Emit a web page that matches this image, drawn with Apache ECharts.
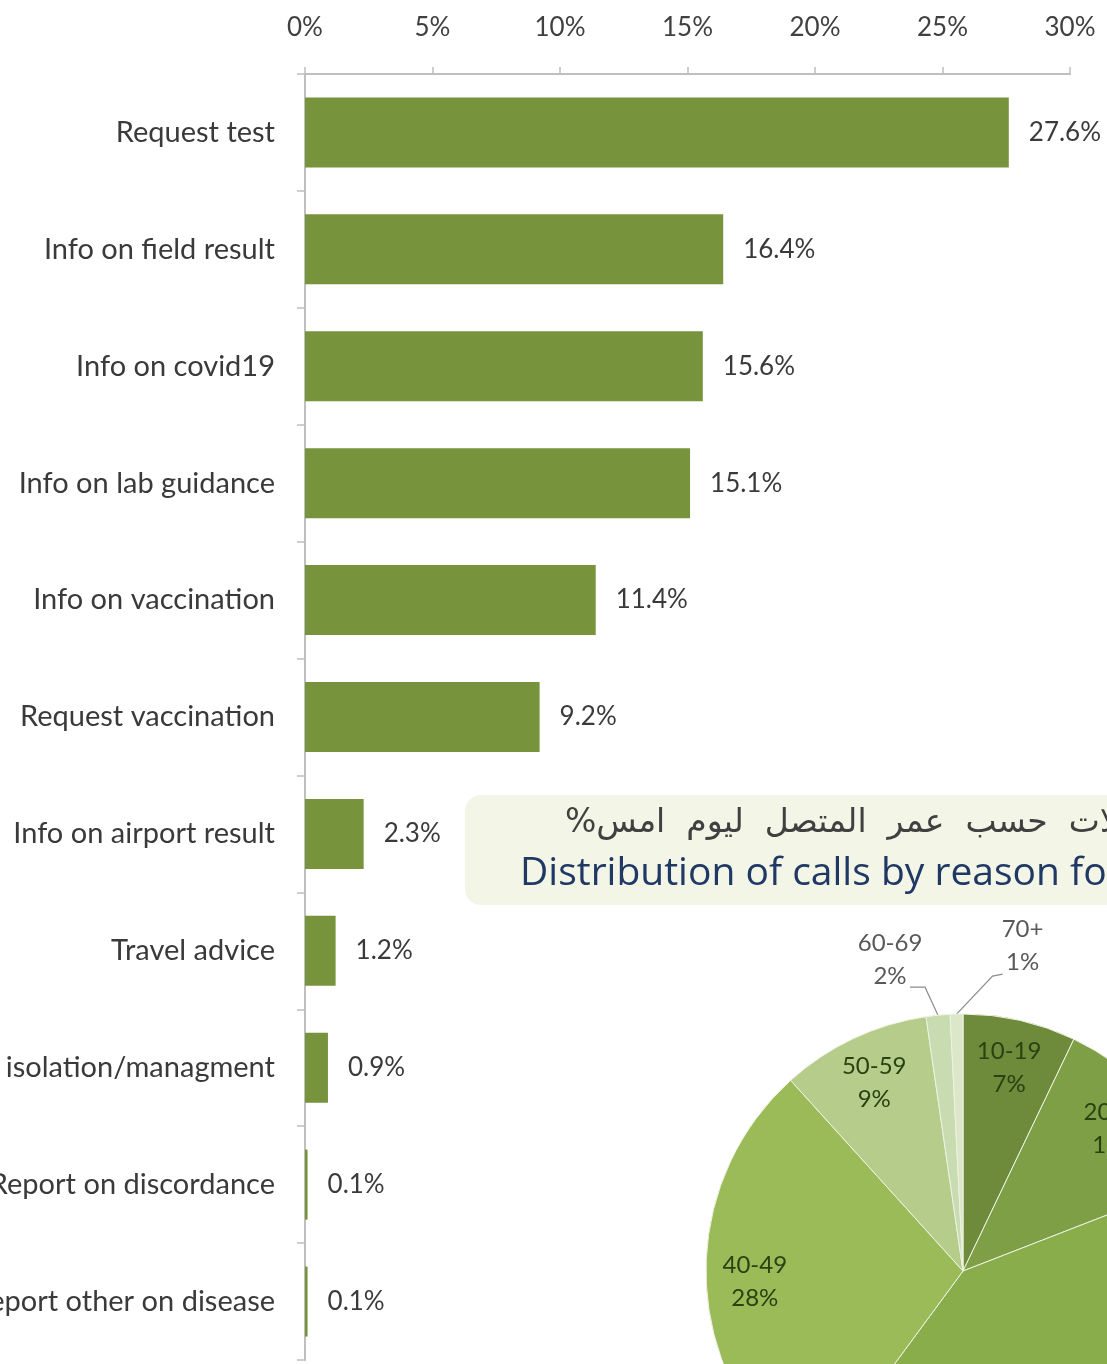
<!DOCTYPE html>
<html><head><meta charset="utf-8">
<script src="https://cdn.jsdelivr.net/npm/echarts@6/dist/echarts.min.js"></script>
<style>html,body{margin:0;padding:0;background:#fff;overflow:hidden}#c{width:1107px;height:1364px}</style>
</head><body><div id="c"></div>
<script>
const categories = ['Request test','Info on field result','Info on covid19','Info on lab guidance','Info on vaccination','Request vaccination','Info on airport result','Travel advice','isolation/managment','Report on discordance','Report other on disease'];
const values = [27.6,16.4,15.6,15.1,11.4,9.2,2.3,1.2,0.9,0.1,0.1];
const xMin = 0, xMax = 30, xStep = 5;

const ageGroups = ['10-19','20-29','30-39','40-49','50-59','60-69','70+'];
const ageShares = [7.1,12.0,41.0,28.2,9.4,1.5,0.8];
const ageLabels = [7,12,41,28,9,2,1];
const ageColors = ['#6d8b3a','#7e9f45','#8aad4b','#9bbb59','#b5cc8a','#c9dbb0','#dbe7c8'];
const outsideGroups = ['60-69','70+'];

const titleAr = '%' + 'توزيع  الاتصالات  حسب  عمر  المتصل  ليوم  امس';
const titleEn = 'Distribution of calls by reason for calls %';

const chart = echarts.init(document.getElementById('c'), null, {renderer:'canvas'});
const R = 257, CX = 963, CY = 1271;

const pieData = ageGroups.map((g,i)=>({
  name:g, value:ageShares[i], itemStyle:{color:ageColors[i]},
  label:{show: outsideGroups.includes(g)}
}));
const pieLabelData = ageGroups.map((g,i)=>({
  name:g, value:ageShares[i],
  label:{show: !outsideGroups.includes(g)}
}));

chart.setOption({
  animation:false,
  backgroundColor:'#ffffff',
  grid:{left:305, right:37, top:74, bottom:4, containLabel:false, outerBoundsMode:'none'},
  xAxis:{
    type:'value', position:'top', min:xMin, max:xMax, interval:xStep,
    axisLine:{show:true, lineStyle:{color:'#bfbfbf', width:2}},
    axisTick:{show:true, length:7, lineStyle:{color:'#bfbfbf', width:1.5}},
    splitLine:{show:false},
    axisLabel:{formatter:'{value}%', margin:33, fontFamily:'Lato', fontSize:26, color:'#404040'}
  },
  yAxis:{
    type:'category', inverse:true, data:categories,
    axisLine:{show:true, lineStyle:{color:'#bfbfbf', width:2}},
    axisTick:{show:true, length:8, lineStyle:{color:'#bfbfbf', width:1.5}},
    axisLabel:{margin:30, fontFamily:'Lato', fontSize:29, color:'#3a3a3a'}
  },
  series:[
    {
      type:'bar', data:values, barWidth:70,
      itemStyle:{color:'#77933c'},
      label:{show:true, position:'right', distance:20, fontFamily:'Lato', fontSize:26, color:'#3a3a3a',
        formatter:p=>p.value.toFixed(1)+'%'}
    },
    {
      type:'pie', center:[CX,CY], radius:[0,R], startAngle:90, clockwise:true,
      avoidLabelOverlap:false, silent:true, z:5,
      itemStyle:{borderColor:'#eef2e2', borderWidth:1},
      label:{position:'outside', fontFamily:'Lato', fontSize:24, lineHeight:33, color:'#595959', align:'center',
        formatter:p=>p.name+'\n'+ageLabels[p.dataIndex]+'%'},
      labelLine:{show:true, length:20, length2:12, lineStyle:{color:'#8c8c8c', width:1.2}},
      labelLayout:function(p){
        const name = ageGroups[p.dataIndex];
        const pts = p.labelLinePoints;
        if(!pts || !outsideGroups.includes(name)) return {};
        const s = pts[0];
        if(name==='60-69'){
          return {x:s[0]-48, y:s[1]-55, align:'center', verticalAlign:'middle',
            labelLinePoints:[s,[s[0]-13,s[1]-28],[s[0]-28,s[1]-28]]};
        }
        return {x:s[0]+66, y:s[1]-68, align:'center', verticalAlign:'middle',
          labelLinePoints:[s,[s[0]+36,s[1]-38],[s[0]+46,s[1]-40]]};
      },
      data:pieData
    },
    {
      type:'pie', center:[CX,CY], radius:[Math.round(R*0.6),R], startAngle:90, clockwise:true,
      avoidLabelOverlap:false, silent:true, z:6,
      itemStyle:{color:'rgba(0,0,0,0)', borderWidth:0},
      label:{position:'inside', fontFamily:'Lato', fontSize:24, lineHeight:33, color:'#2a4111',
        formatter:p=>p.name+'\n'+ageLabels[p.dataIndex]+'%'},
      labelLine:{show:false},
      emphasis:{disabled:true},
      data:pieLabelData
    }
  ],
  graphic:[
    {type:'rect', z:10, shape:{x:465, y:795, width:720, height:110, r:16}, style:{fill:'#f3f5e6'}},
    {type:'text', z:11, left:565, top:807, style:{text:titleAr, fontFamily:'DejaVu Sans', fontSize:33, fill:'#404040'}},
    {type:'text', z:11, left:520, top:854, style:{text:titleEn, fontFamily:'Open Sans', fontSize:39, fill:'#1f3864'}}
  ]
});
</script></body></html>
